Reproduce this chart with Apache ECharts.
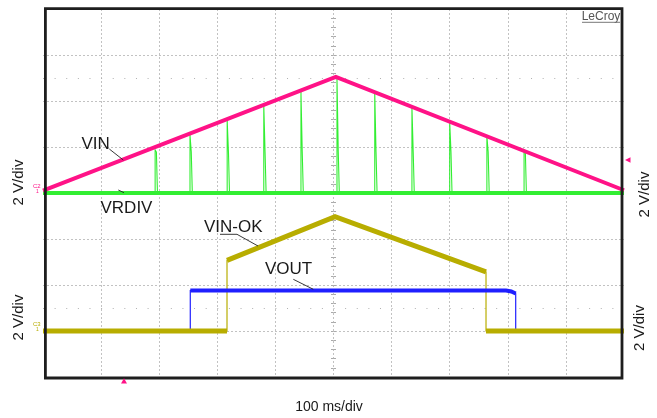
<!DOCTYPE html>
<html>
<head>
<meta charset="utf-8">
<script src="https://cdn.jsdelivr.net/npm/echarts@6/dist/echarts.min.js"></script>
<style>
html,body{margin:0;padding:0;background:#fff;}
#chart{width:657px;height:418px;}
</style>
</head>
<body>
<div id="chart"></div>
<script>
// ---- Data (time in ms, 100 ms/div; volts, 2 V/div) ----
// VIN (C1): triangular ramp
const vinTime = [0, 504, 1000];
const vinVolts = [0.1, 5.05, 0.12];

// VRDIV (C2): short pulses on a 0 V baseline
const vrdivBaseTime = [0, 1000];
const vrdivBaseVolts = [0, 0];
const pulseTime = [193, 253, 317, 380, 444, 506, 571, 635, 700, 764, 828];
const pulseTopVolts = [1.87, 2.52, 3.17, 3.83, 4.39, 5.0, 4.35, 3.74, 3.09, 2.48, 1.87];
const pulseStepVolts = 1.78;
const pulseWidthMs = 2.2;
const pulseStepWidthMs = 1.8;

// VIN-OK (C3)
const vinokTime = [0, 316.7, 316.7, 502.6, 762.5, 762.5, 1000];
const vinokVolts = [0, 0, 3.07, 4.97, 2.57, 0, 0];

// VOUT (C4)
const voutTime = [0, 253.5, 253.5, 797, 806, 813.6, 813.6, 1000];
const voutVolts = [0.05, 0.05, 1.76, 1.76, 1.72, 1.63, 0.05, 0.05];

// axis ranges
const xMin = 0, xMax = 1000, xStep = 100;
const c12Min = -8, c12Max = 8, c34Min = -2, c34Max = 14, vStep = 2;
const minorMarks = [5, -5];

const FONT = 'Liberation Sans, Arial, Helvetica, sans-serif';
const C_VIN = '#ff1287', C_VRDIV = '#33ee33', C_VINOK = '#b8ad00', C_VOUT = '#1f1fff';

function pairs(ts, vs) { return ts.map((t, i) => [t, vs[i]]); }
// thick parts: break the path on vertical edges (and optionally where keep() fails)
function thickParts(ts, vs, keep) {
  const out = [];
  for (let i = 0; i < ts.length; i++) {
    out.push([ts[i], vs[i]]);
    if (i < ts.length - 1) {
      const ok = ts[i] !== ts[i + 1] && (!keep || keep(vs[i], vs[i + 1]));
      if (!ok) out.push([(ts[i] + ts[i + 1]) / 2, '-']);
    }
  }
  return out;
}
const pulseData = [[vrdivBaseTime[0], 0]];
pulseTime.forEach((t, i) => {
  const t1 = t + pulseWidthMs, t2 = t1 + pulseStepWidthMs;
  pulseData.push([t, 0], [t, pulseTopVolts[i]], [t1, pulseTopVolts[i]],
    [t1, pulseStepVolts], [t2, pulseStepVolts], [t2, 0]);
});
pulseData.push([vrdivBaseTime[1], 0]);

function line(name, data, yIdx, color, width, z, extra) {
  return Object.assign({
    name, type: 'line', data, yAxisIndex: yIdx, z,
    showSymbol: false, symbol: 'none', silent: true, animation: false,
    connectNulls: false,
    lineStyle: { color, width, cap: 'butt', join: 'miter' }
  }, extra || {});
}

const chart = echarts.init(document.getElementById('chart'), null, { renderer: 'canvas' });
const gridRect = { left: 43, top: 9, width: 581, height: 368 };
const splitStyle = { show: true, showMinLine: false, showMaxLine: false,
  lineStyle: { color: '#c2c2c2', width: 1, type: [2, 2] } };
const centerTickAxis = (inside) => ({
  type: 'value', min: 0, max: 40, interval: 1, position: 'left', offset: -290.5,
  axisLine: { show: false }, axisLabel: { show: false }, splitLine: { show: false },
  axisTick: { show: true, inside, length: 2.5, lineStyle: { color: '#aaa', width: 1 } }
});

const texts = [
  { t: 'VIN', x: 81.5, y: 144, size: 17 },
  { t: 'VRDIV', x: 100.5, y: 208.8, size: 17 },
  { t: 'VIN-OK', x: 204, y: 227.6, size: 17 },
  { t: 'VOUT', x: 265, y: 269, size: 17 }
];
const leaders = [
  [[109.3, 149], [123.3, 160]],
  [[118.3, 190], [124, 192.7]],
  [[220, 234.3], [237, 234.3], [258, 246]],
  [[293.3, 279.3], [313.3, 289.3]]
];
const vdiv = [[19, 182.5], [19, 317.5], [645, 194.5], [640, 328]];

const graphic = [];
texts.forEach(o => graphic.push({ type: 'text', x: o.x, y: o.y, z: 100, silent: true,
  style: { text: o.t, font: o.size + 'px ' + FONT, fill: '#1a1a1a', textAlign: 'left', textVerticalAlign: 'middle' } }));
leaders.forEach(p => graphic.push({ type: 'polyline', z: 100, silent: true,
  shape: { points: p }, style: { stroke: '#222', lineWidth: 0.9, fill: null } }));
vdiv.forEach(p => graphic.push({ type: 'text', x: p[0], y: p[1], rotation: Math.PI / 2, z: 100, silent: true,
  style: { text: '2 V/div', font: '15px ' + FONT, fill: '#1a1a1a', textAlign: 'center', textVerticalAlign: 'middle' } }));
graphic.push({ type: 'text', x: 329, y: 407.5, z: 100, silent: true,
  style: { text: '100 ms/div', font: '14px ' + FONT, fill: '#1a1a1a', textAlign: 'center', textVerticalAlign: 'middle' } });
graphic.push({ type: 'text', x: 601, y: 16.3, z: 100, silent: true,
  style: { text: 'LeCroy', font: '12px ' + FONT, fill: '#555', textAlign: 'center', textVerticalAlign: 'middle' } });
graphic.push({ type: 'line', z: 100, silent: true, shape: { x1: 582, y1: 22.3, x2: 620, y2: 22.3 },
  style: { stroke: '#777', lineWidth: 1 } });
// frame
graphic.push({ type: 'rect', z: 90, silent: true, shape: { x: 45.4, y: 8.6, width: 576.6, height: 369.4 },
  style: { stroke: '#1e1e1e', lineWidth: 2.8, fill: null } });
// trigger / offset markers
graphic.push({ type: 'polygon', z: 100, silent: true, shape: { points: [[625, 160], [630.5, 157.2], [630.5, 162.8]] },
  style: { fill: C_VIN } });
graphic.push({ type: 'polygon', z: 100, silent: true, shape: { points: [[124, 378.2], [121, 383.5], [127, 383.5]] },
  style: { fill: C_VIN } });
graphic.push({ type: 'text', x: 36.8, y: 186.5, z: 100, silent: true,
  style: { text: 'C2', font: '6px ' + FONT, fill: C_VIN, textAlign: 'center', textVerticalAlign: 'middle' } });
graphic.push({ type: 'text', x: 37.5, y: 191.5, z: 100, silent: true,
  style: { text: '1', font: '5px ' + FONT, fill: C_VIN, textAlign: 'center', textVerticalAlign: 'middle' } });
graphic.push({ type: 'text', x: 36.8, y: 324, z: 100, silent: true,
  style: { text: 'C3', font: '6px ' + FONT, fill: C_VINOK, textAlign: 'center', textVerticalAlign: 'middle' } });
graphic.push({ type: 'text', x: 37.5, y: 329.5, z: 100, silent: true,
  style: { text: '1', font: '5px ' + FONT, fill: C_VINOK, textAlign: 'center', textVerticalAlign: 'middle' } });

chart.setOption({
  animation: false,
  backgroundColor: '#ffffff',
  grid: Object.assign({ show: false, containLabel: false }, gridRect),
  xAxis: {
    type: 'value', min: xMin, max: xMax, interval: xStep,
    axisLine: { show: false }, axisTick: { show: false }, axisLabel: { show: false },
    splitLine: splitStyle
  },
  yAxis: [
    { type: 'value', min: c12Min, max: c12Max, interval: vStep,
      axisLine: { show: false }, axisTick: { show: false }, axisLabel: { show: false },
      splitLine: splitStyle },
    { type: 'value', min: c34Min, max: c34Max, interval: vStep, show: false, splitLine: { show: false } },
    centerTickAxis(false),
    centerTickAxis(true)
  ],
  series: [
    line('VRDIV', pairs(vrdivBaseTime, vrdivBaseVolts), 0, C_VRDIV, 4, 3, {
      markLine: { silent: true, symbol: 'none', animation: false, label: { show: false },
        lineStyle: { color: '#b0b0b0', width: 1, type: [1, 10.62] },
        data: minorMarks.map(v => ({ yAxis: v })) }
    }),
    line('VRDIV pulses', pulseData, 0, C_VRDIV, 1.1, 4),
    line('VIN', pairs(vinTime, vinVolts), 0, C_VIN, 4, 5),
    line('VIN-OK edges', pairs(vinokTime, vinokVolts), 1, C_VINOK, 1.2, 6),
    line('VOUT', pairs(voutTime, voutVolts), 1, C_VOUT, 1.2, 7),
    line('VOUT thick', thickParts(voutTime, voutVolts, (a, b) => a > 1 && b > 1), 1, C_VOUT, 4, 7),
    line('VIN-OK', thickParts(vinokTime, vinokVolts), 1, C_VINOK, 5, 8)
  ],
  graphic
});
</script>
</body>
</html>
